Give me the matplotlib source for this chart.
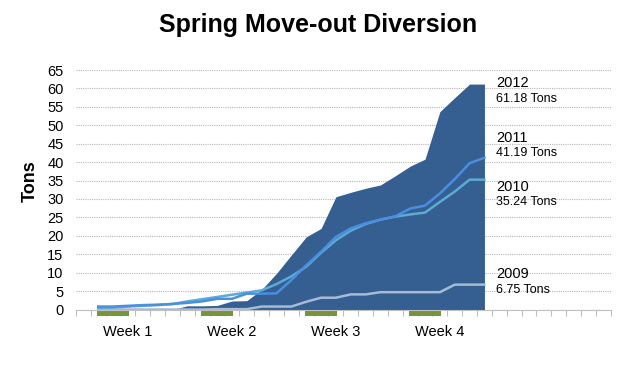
import numpy as np
import matplotlib.pyplot as plt
from matplotlib.ticker import FixedLocator

plt.rcParams['font.family'] = ['Liberation Sans', 'DejaVu Sans']

# day index on the category axis (36 slots, data on days 1..27)
n_slots = 36
days = np.arange(1, 28)

tons_2012 = [0, 0, 0, 0, 0, 0, 1.0, 1.0, 1.1, 2.3, 2.4, 5.4, 9.8, 14.8, 19.7, 22.0,
             30.6, 31.8, 32.9, 33.8, 36.3, 38.9, 40.8, 53.7, 57.5, 61.18, 61.18]
tons_2011 = [0.8, 0.8, 1.0, 1.2, 1.3, 1.5, 1.8, 2.2, 2.9, 2.9, 4.3, 4.3, 4.4, 8.0,
             12.0, 15.7, 19.7, 22.0, 23.4, 24.4, 25.3, 27.4, 28.2, 31.5, 35.4, 39.7, 41.19]
tons_2010 = [0.4, 0.5, 0.8, 1.0, 1.2, 1.5, 2.2, 2.8, 3.4, 4.0, 4.6, 5.2, 6.9, 9.0,
             11.6, 15.4, 18.8, 21.4, 23.2, 24.4, 25.2, 25.8, 26.3, 29.2, 32.0, 35.24, 35.24]
tons_2009 = [0, 0, 0, 0, 0, 0, 0, 0, 0.1, 0.1, 0.1, 0.8, 0.8, 0.8, 2.1, 3.2, 3.2,
             4.1, 4.1, 4.7, 4.7, 4.7, 4.7, 4.7, 6.75, 6.75, 6.75]

week_labels = ['Week 1', 'Week 2', 'Week 3', 'Week 4']
week_label_days = [3, 10, 17, 24]
moveout_days = [2, 9, 16, 23]

# end labels: year, total, text anchor heights
end_years = ['2012', '2011', '2010', '2009']
end_totals = ['61.18 Tons', '41.19 Tons', '35.24 Tons', '6.75 Tons']
end_year_y = [61.5, 46.6, 33.2, 9.6]
end_total_y = [57.2, 42.6, 29.1, 5.3]

fig = plt.figure(figsize=(6.36, 3.81), dpi=100)
ax = fig.add_axes([76 / 636, 1 - 309.5 / 381, (610.7 - 76) / 636, (309.5 - 70) / 381])

ax.fill_between(days, 0, tons_2012, color='#355f91', linewidth=0, zorder=2)
ax.plot(days, tons_2009, color='#a7bad6', lw=1.8, zorder=3)
ax.plot(days, tons_2010, color='#5aabd6', lw=1.8, zorder=3)
ax.plot(days, tons_2011, color='#4a8ee0', lw=1.8, zorder=4)

# green move-out markers just under the axis
ax.bar(moveout_days, -1.7, width=2.2, bottom=0, color='#77933c', clip_on=False, zorder=5)

ax.set_xlim(-0.5, n_slots - 0.5)
ax.set_ylim(0, 65)
ax.set_yticks(np.arange(0, 66, 5))
ax.tick_params(axis='y', length=0, pad=9, labelsize=10.5)
ax.yaxis.grid(True, linestyle=(0, (1, 1)), color='#b8b8b8', linewidth=0.8, zorder=0)
ax.set_axisbelow(True)

ax.set_xticks(week_label_days)
ax.set_xticklabels(week_labels)
ax.xaxis.set_minor_locator(FixedLocator(np.arange(-0.5, n_slots, 1)))
ax.tick_params(axis='x', which='major', length=0, pad=11, labelsize=10.5)
ax.tick_params(axis='x', which='minor', length=4, color='#bfbfbf', width=0.8)

for s in ['top', 'right', 'left']:
    ax.spines[s].set_visible(False)
ax.spines['bottom'].set_color('#bfbfbf')
ax.spines['bottom'].set_zorder(6)

for yr, tot, y1, y2 in zip(end_years, end_totals, end_year_y, end_total_y):
    ax.text(27.78, y1, yr, fontsize=10.5, va='center', ha='left')
    ax.text(27.78, y2, tot, fontsize=9, va='center', ha='left')

fig.text(0.5, 1 - 25 / 381, 'Spring Move-out Diversion', ha='center', va='center',
         fontsize=18, fontweight='bold')
fig.text(30 / 636, 1 - 181 / 381, 'Tons', rotation=90, ha='center', va='center',
         fontsize=13, fontweight='bold')

fig.savefig('out.png', dpi=100)
